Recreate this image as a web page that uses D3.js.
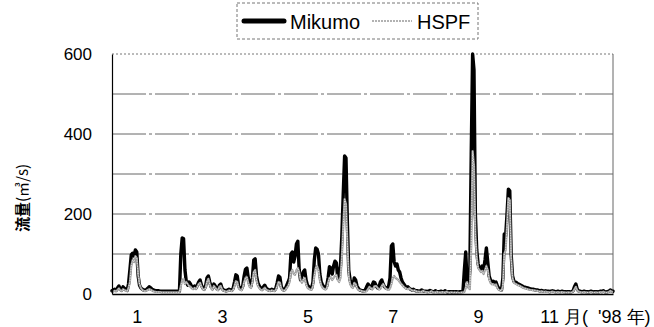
<!DOCTYPE html>
<html><head><meta charset="utf-8">
<script src="https://cdn.jsdelivr.net/npm/d3@7"></script>
<style>
body{margin:0;background:#fff;}
svg{display:block;}
.tk{font-family:"Liberation Sans Narrow","Arial Narrow","Liberation Sans",Arial,sans-serif;}
</style></head>
<body>
<svg id="c" width="654" height="327"></svg>
<script>
// daily discharge (m3/s), 1998, day index 0..364
const mikumo = [
8,10,12,9,15,20,12,10,18,14,
11,9,25,60,98,102,95,110,105,45,
22,15,12,10,9,11,14,18,16,12,
10,9,8,8,8,7,7,7,7,7,
7,7,7,7,7,7,7,7,7,7,
100,140,138,60,30,22,30,25,18,15,
20,15,22,30,35,22,15,12,20,40,
45,30,18,14,25,20,14,12,22,25,
14,10,9,8,10,12,10,9,14,30,
48,45,20,14,12,20,45,62,65,40,
25,20,40,85,88,45,28,20,15,12,
18,22,15,12,10,9,12,10,9,14,
28,45,42,18,12,10,14,22,30,40,
100,105,80,95,125,132,60,35,45,55,
60,35,22,18,15,14,30,85,115,112,
100,50,30,22,18,15,20,40,68,65,
50,70,82,78,40,50,70,145,250,345,
340,180,60,35,25,20,40,35,20,14,
10,9,8,8,10,18,25,20,15,22,
30,28,20,15,18,30,35,25,18,15,
14,20,40,120,125,80,70,75,60,55,
40,30,25,20,15,18,14,12,10,12,
9,8,8,7,8,10,8,7,7,6,
7,9,7,6,6,8,6,6,6,7,
6,6,8,6,5,6,6,5,6,5,
6,5,5,6,6,8,60,105,30,20,
60,350,600,560,200,110,75,65,60,70,
60,85,115,80,45,35,30,32,28,30,
20,14,12,10,40,150,145,200,262,258,
100,45,32,30,28,25,24,22,20,18,
17,16,15,14,13,12,12,11,10,10,
9,8,9,8,7,8,7,7,6,7,
8,7,6,6,7,6,6,7,6,6,
5,6,6,5,6,8,18,25,12,8,
7,6,6,7,6,6,5,6,7,6,
5,6,6,5,6,7,6,8,6,5,
6,7,10,8,7
];
const hspf = [
5,6,8,7,10,14,9,7,12,10,
8,7,15,30,70,85,80,95,90,50,
25,15,10,8,7,8,10,12,11,9,
7,6,5,5,5,5,4,4,4,4,
4,4,4,4,4,4,4,4,4,4,
20,35,38,25,30,25,20,18,14,12,
15,12,18,25,28,18,12,10,15,30,
38,25,14,10,20,16,11,9,18,20,
11,8,7,6,7,9,8,7,10,20,
32,30,15,11,9,15,30,40,42,28,
18,15,30,55,60,35,20,15,11,9,
12,16,11,9,8,7,9,8,7,10,
20,30,28,14,9,8,10,16,20,30,
55,60,50,48,60,65,55,35,28,35,
40,25,16,13,11,10,20,45,65,70,
60,35,22,16,13,11,14,28,40,42,
35,40,45,48,35,30,40,90,170,237,
225,130,45,25,18,15,28,25,15,10,
9,8,7,6,6,7,12,18,15,11,
15,20,20,15,11,13,20,25,18,13,
11,10,14,25,40,45,40,38,35,30,
26,22,18,15,13,12,14,11,9,8,
9,7,6,6,5,6,8,6,5,5,
4,5,7,5,4,4,6,4,4,4,
5,4,4,6,4,3,4,4,3,4,
3,4,3,3,4,4,5,15,30,15,
12,120,357,320,150,90,65,60,55,58,
50,60,70,60,38,28,24,25,22,24,
15,10,9,8,20,100,110,170,240,235,
90,40,28,26,24,22,21,19,17,15,
14,13,12,11,10,10,9,9,8,8,
7,6,7,6,5,6,5,5,4,5,
6,5,4,4,5,4,4,5,4,4,
3,4,4,3,4,6,12,18,9,6,
5,4,4,5,4,4,3,4,5,4,
3,4,4,3,4,5,4,6,4,3,
4,5,8,6,5
];
const seriesNames = ["Mikumo", "HSPF"];
const xTickDays = [18, 80, 142, 204, 266, 328];
const xTickLabels = ["1", "3", "5", "7", "9", "11 月(  '98 年)"];
const yTicks = [0, 200, 400, 600];
const yGrid = [100, 200, 300, 400, 500];
const yTitle = ["流量", "(㎥/s)"];

const svg = d3.select("#c");
const W = 654, H = 327;
const L = 112, R = 613, T = 54, B = 294;
const x = d3.scaleLinear().domain([0, 364]).range([L, R]);
const y = d3.scaleLinear().domain([0, 600]).range([B, T]);

// grid
svg.append("g").selectAll("line").data(yGrid).join("line")
  .attr("x1", L).attr("x2", R).attr("y1", d => y(d)).attr("y2", d => y(d))
  .attr("stroke", "#666").attr("stroke-width", 1).attr("stroke-dasharray", "34,3,3,3");
// top border
svg.append("line").attr("x1", L).attr("x2", R).attr("y1", y(600)).attr("y2", y(600))
  .attr("stroke", "#777").attr("stroke-dasharray", "2,2");
// right border
svg.append("line").attr("x1", R).attr("x2", R).attr("y1", y(600)).attr("y2", B)
  .attr("stroke", "#666");

const line = d3.line().x((d, i) => x(i)).y(d => y(d));
svg.append("path").datum(mikumo).attr("d", line)
  .attr("fill", "none").attr("stroke", "#000").attr("stroke-width", 3.4)
  .attr("stroke-linejoin", "round").attr("stroke-linecap", "round");
svg.append("path").datum(hspf).attr("d", line)
  .attr("fill", "none").attr("stroke", "#9a9a9a").attr("stroke-width", 2.2)
  .attr("stroke-linejoin", "round");
svg.append("path").datum(hspf).attr("d", line)
  .attr("fill", "none").attr("stroke", "#fff").attr("stroke-width", 0.8)
  .attr("stroke-dasharray", "1,1.5").attr("stroke-linejoin", "round");

// axes
const ya = svg.append("g").attr("transform", `translate(${L},0)`)
  .call(d3.axisLeft(y).tickValues(yTicks).tickSize(0).tickPadding(20));
ya.select(".domain").attr("stroke", "#000").attr("stroke-width", 1.2);
ya.selectAll("text").attr("class", "tk").attr("font-size", 17).attr("fill", "#000");

const xa = svg.append("g").attr("transform", `translate(0,${B})`)
  .call(d3.axisBottom(x).tickValues(xTickDays).tickSize(0).tickPadding(16)
    .tickFormat((d, i) => xTickLabels[i]));
xa.select(".domain").attr("stroke", "#000").attr("stroke-width", 1.5);
xa.selectAll("text").attr("class", "tk").attr("font-size", 18).attr("fill", "#000")
  .attr("font-family", null).style("white-space", "pre");
// last label pushed against the right edge, like the original
const lastTick = xa.selectAll(".tick").filter((d, i) => i === xTickDays.length - 1);
lastTick.select("text").attr("text-anchor", "end").attr("x", (W - 4) - x(xTickDays[xTickDays.length - 1]));

// y title
const yt = svg.append("text").attr("transform", `translate(28,198) rotate(-90)`)
  .attr("text-anchor", "middle").attr("font-size", 15)
  .attr("font-family", "'Noto Sans CJK JP','Liberation Sans',sans-serif");
yt.append("tspan").attr("font-weight", "bold").text(yTitle[0]);
yt.append("tspan").text(yTitle[1]);

// legend
const lg = svg.append("g");
lg.append("rect").attr("x", 237).attr("y", 3).attr("width", 241).attr("height", 36)
  .attr("fill", "#fff").attr("stroke", "#777").attr("stroke-dasharray", "3,2");
lg.append("line").attr("x1", 244).attr("x2", 284).attr("y1", 21).attr("y2", 21)
  .attr("stroke", "#000").attr("stroke-width", 5).attr("stroke-linecap", "round");
lg.append("text").attr("x", 290).attr("y", 29).attr("font-size", 20)
  .attr("font-family", "'Liberation Sans',Arial,sans-serif").text(seriesNames[0]);
lg.append("line").attr("x1", 372).attr("x2", 412).attr("y1", 21).attr("y2", 21)
  .attr("stroke", "#999").attr("stroke-width", 1.5).attr("stroke-dasharray", "2,1");
lg.append("text").attr("x", 417).attr("y", 29).attr("font-size", 20)
  .attr("font-family", "'Liberation Sans',Arial,sans-serif").text(seriesNames[1]);
</script>
</body></html>
